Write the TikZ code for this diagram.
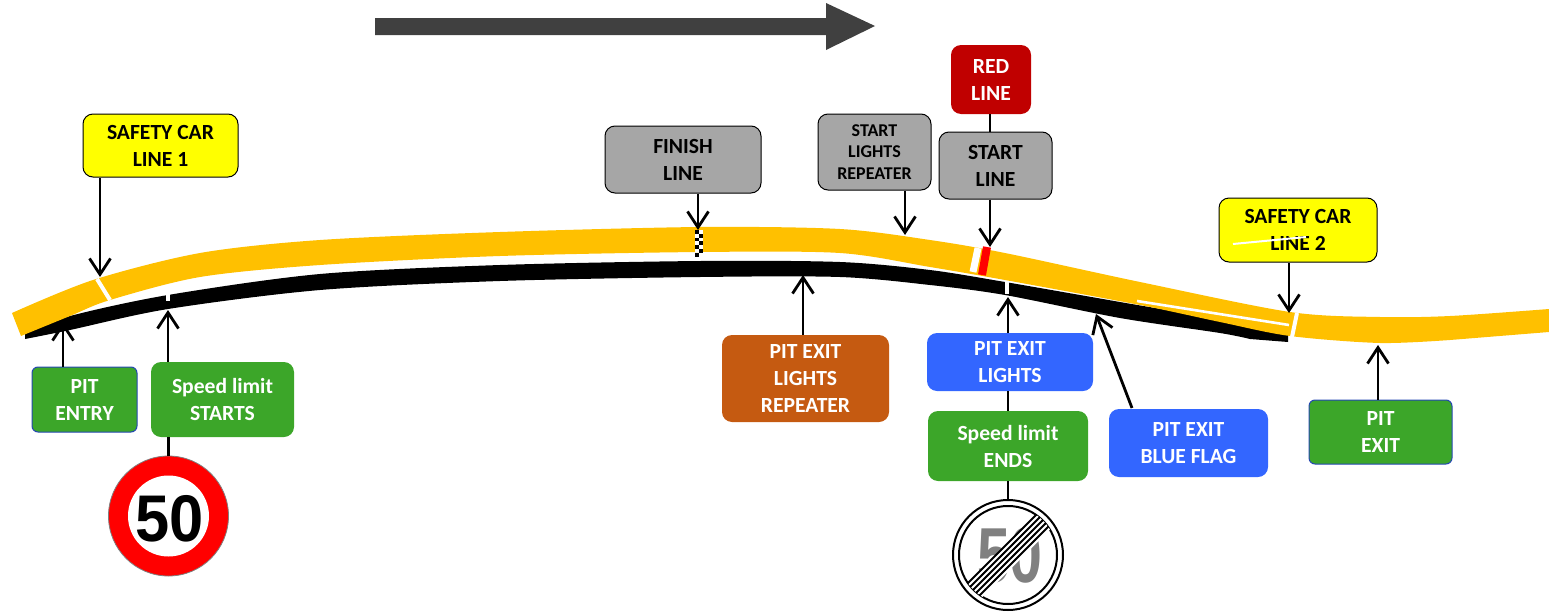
\documentclass[tikz,border=0pt]{standalone}
\usepackage{fontspec}
\setmainfont{Carlito}
\newfontfamily\signfont{Liberation Sans}
\usetikzlibrary{arrows.meta}
\definecolor{trackcol}{HTML}{FFC000}
\definecolor{greenbox}{HTML}{3CA629}
\definecolor{bluebox}{HTML}{3366FF}
\definecolor{orangebox}{HTML}{C55A11}
\definecolor{redbox}{HTML}{C00000}
\definecolor{greybox}{HTML}{A6A6A6}
\definecolor{bigarrow}{HTML}{404040}
\definecolor{yellowbox}{HTML}{FFFF00}
\definecolor{redsign}{HTML}{FF0000}
\tikzset{
  label/.style={rounded corners=5pt,align=center,inner sep=0pt,font=\fontsize{10.8}{13.5}\selectfont\bfseries,execute at begin node={\rule{0pt}{11pt}}},
  yellowlabel/.style={label,draw=black,line width=.5pt,fill=yellowbox,text=black},
  greylabel/.style={label,draw=black,line width=.5pt,fill=greybox,text=black},
  greenlabel/.style={label,fill=greenbox,text=white},
  bluelabel/.style={label,fill=bluebox,text=white},
  pointer/.style={draw=black,line width=1.4pt,-{Straight Barb[length=8pt,width=10.5pt]}},
  joinline/.style={draw=black,line width=1.4pt},
  cut/.style={draw=white,line width=2pt}
}
\begin{document}
\begin{tikzpicture}[x=.5pt,y=-.5pt]
\useasboundingbox (0,0) rectangle (1549,616);
% direction
\fill[bigarrow] (375,18) -- (826,18) -- (826,3) -- (875,26) -- (826,50) -- (826,35) -- (375,35) -- cycle;
% labels
\node[yellowlabel,minimum width=77.5pt,minimum height=31.5pt] (safety1) at (160.5,145.5) {SAFETY CAR\\LINE 1};
\node[greylabel,minimum width=78pt,minimum height=33.5pt] (finish) at (683,159.5) {FINISH\\LINE};
\node[greylabel,minimum width=56.5pt,minimum height=38pt,font=\fontsize{9}{10.7}\selectfont\bfseries,execute at begin node={}] (repeater) at (874.5,152) {START\\LIGHTS\\REPEATER};
\node[label,fill=redbox,text=white,minimum width=40pt,minimum height=34.5pt] (redline) at (991,79.5) {RED\\LINE};
\node[greylabel,minimum width=56.5pt,minimum height=33.5pt] (start) at (995.5,165.5) {START\\LINE};
\node[yellowlabel,minimum width=79pt,minimum height=32pt] (safety2) at (1298,230) {SAFETY CAR\\LINE 2};
\node[greenlabel,draw=bluebox!70!black,line width=.5pt,rounded corners=3pt,minimum width=52.5pt,minimum height=32.5pt] (pitentry) at (84.5,399.5) {PIT\\ENTRY};
\node[greenlabel,minimum width=71.5pt,minimum height=37.5pt] (limitstart) at (222.5,399.5) {Speed limit\\STARTS};
\node[label,fill=orangebox,text=white,minimum width=83.5pt,minimum height=43.5pt] (exitrepeater) at (805.5,378.5) {PIT EXIT\\LIGHTS\\REPEATER};
\node[bluelabel,minimum width=83pt,minimum height=29pt] (exitlights) at (1010,362) {PIT EXIT\\LIGHTS};
\node[greenlabel,minimum width=80pt,minimum height=35pt] (limitend) at (1008,446) {Speed limit\\ENDS};
\node[bluelabel,minimum width=79.5pt,minimum height=34pt] (blueflag) at (1188.5,443) {PIT EXIT\\BLUE FLAG};
\node[greenlabel,draw=bluebox!70!black,line width=.5pt,rounded corners=3pt,minimum width=71.5pt,minimum height=32pt] (pitexit) at (1380.5,432) {PIT\\EXIT};
% arrow tips
\coordinate (tipsafety1) at (100,277);
\coordinate (tipfinish) at (698,230);
\coordinate (tiprepeater) at (905,235);
\coordinate (tipstart) at (990,247);
\coordinate (tipsafety2) at (1289,313);
\coordinate (tipentry) at (63,322);
\coordinate (tiplimit) at (168,310);
\coordinate (tipexitrep) at (803,275);
\coordinate (tipexitlights) at (1008,297);
\coordinate (tipflag) at (1096,314);
\coordinate (tipflagstart) at (1132,408);
\coordinate (tipexit) at (1378,345);
% entry arrow goes under the pit lane
\draw[pointer] (tipentry |- pitentry.north) -- (tipentry);
% pit lane
\fill[black] plot[smooth] coordinates {(25,333) (70,316) (168,295) (320,274) (500,265) (700,261) (840,262) (930,270) (1005,282) (1120,302) (1200,316) (1288,335)}
  -- (1288,342) -- plot[smooth] coordinates {(1250,339) (1220,333) (1120,318) (1005,295) (930,285) (840,277) (700,277) (500,281) (320,290) (168,309) (70,330) (25,339)} -- cycle;
% track
\fill[trackcol] plot[smooth] coordinates {(12,313) (93,280) (200,253) (320,240) (500,232) (700,227) (840,229) (930,240) (1005,253) (1140,282) (1290,312) (1380,317) (1450,316) (1549,309)}
  -- (1549,332) -- plot[smooth] coordinates {(1450,340) (1380,343) (1290,336) (1220,322) (1140,305) (1005,280) (930,267) (840,253) (700,252) (500,256) (320,265) (200,277) (110,300) (70,316) (21,336)} -- cycle;
% marks on the track
\draw[cut] (97,279) -- (110,300);
\draw[cut,line width=3.5pt] (978,248) -- (973,272);
\draw[cut] (1297,313) -- (1292,337);
\draw[cut,line width=1.3pt] (1137,301) -- (1289,325);
\draw[cut] (168,294) -- (168,301);
\draw[cut] (1007,282) -- (1007,294);
\draw[redsign,line width=4pt] (987,247) -- (982,275);
\fill[white] (695,230) rectangle (703,252);
\foreach \row in {0,...,6} {
  \pgfmathsetmacro{\xcheck}{isodd(\row) ? 699 : 695}
  \fill[black] (\xcheck,230+\row*3.8) rectangle (\xcheck+4,230+\row*3.8+3.8);
}
% connectors
\draw[pointer] (tipsafety1 |- safety1.south) -- (tipsafety1);
\draw[pointer] (tipfinish |- finish.south) -- (tipfinish);
\draw[pointer] (tiprepeater |- repeater.south) -- (tiprepeater);
\draw[joinline] (tipstart |- redline.south) -- (tipstart |- start.north);
\draw[pointer] (tipstart |- start.south) -- (tipstart);
\draw[pointer] (tipsafety2 |- safety2.south) -- (tipsafety2);
\draw[pointer] (tiplimit |- limitstart.north) -- (tiplimit);
\draw[pointer] (tipexitrep |- exitrepeater.north) -- (tipexitrep);
\draw[pointer] (tipexitlights |- exitlights.north) -- (tipexitlights);
\draw[joinline] (limitend.north) -- (limitend.north |- exitlights.south);
\draw[pointer] (tipflagstart) -- (tipflag);
\draw[pointer] (tipexit |- pitexit.north) -- (tipexit);
% speed signs
\node[circle,draw=gray,fill=redsign,line width=.4pt,minimum size=60pt,inner sep=0pt] (signstart) at (168.5,516) {};
\fill[white] (signstart) circle (40.5);
\node[font=\signfont\bfseries\fontsize{33}{33}\selectfont,inner sep=0pt] (fifty) at (170,519) {\scalebox{.93}[1]{50}};
\draw[joinline] (signstart.north |- limitstart.south) -- (signstart.north);
\node[circle,draw=black,fill=white,line width=1pt,minimum size=55pt,inner sep=0pt] (signend) at (1008,555) {};
\draw[black,line width=1pt] (signend) circle (49);
\node[font=\signfont\bfseries\fontsize{39}{39}\selectfont,text=gray,inner sep=0pt] (fiftyend) at (1010,556) {\scalebox{.76}[1]{50}};
\begin{scope}[shift={(signend)}]
  \clip (0,0) circle (49);
  \foreach \off in {-6,-3,0,3,6} {
    \draw[white,line width=1.1pt] (-60+\off+1.5,60+\off+1.5) -- (60+\off+1.5,-60+\off+1.5);
    \draw[black,line width=.9pt] (-60+\off,60+\off) -- (60+\off,-60+\off);
  }
\end{scope}
\draw[joinline] (limitend.south) -- (signend.north);
% stray line on the second safety car label
\draw[cut,line width=1pt] (1233,244) -- (1306,237);
\end{tikzpicture}
\end{document}
